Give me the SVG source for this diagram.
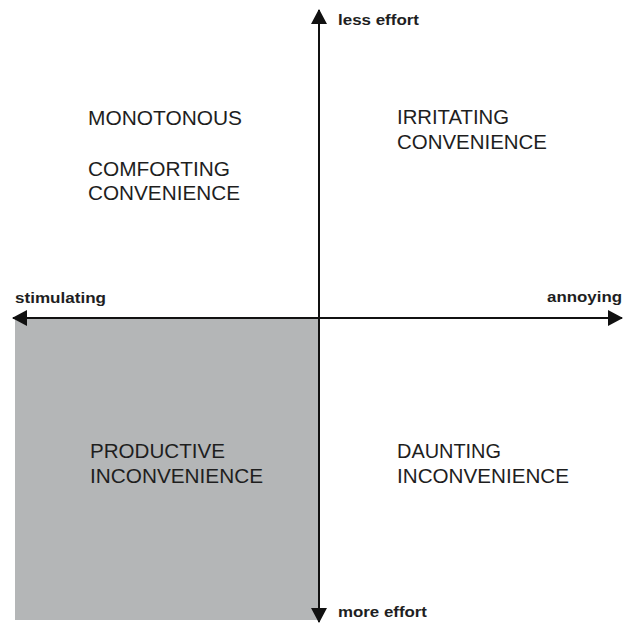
<svg xmlns="http://www.w3.org/2000/svg" width="623" height="624" viewBox="0 0 623 624">
  <style>
    .axis { stroke: #111; stroke-width: 2; fill: none; }
    .axlbl { font-family: "Liberation Sans", Arial, sans-serif; font-weight: bold; font-size: 15.5px; fill: #1e1e22; }
    .quad { font-family: "Liberation Sans", Arial, sans-serif; font-size: 20px; fill: #1e1e1e; }
  </style>
  <defs>
    <marker id="head" viewBox="0 0 15 16" refX="14" refY="8" markerWidth="15" markerHeight="16" markerUnits="userSpaceOnUse" orient="auto">
      <path d="M0,0 L15,8 L0,16 Z" fill="#111"/>
    </marker>
  </defs>

  <rect width="623" height="624" fill="#ffffff"/>

  <!-- shaded lower-left quadrant -->
  <g id="productive-area">
    <rect x="15" y="318" width="304" height="302" fill="#b4b6b7"/>
  </g>

  <!-- axes -->
  <g id="connectors">
    <line class="axis" x1="319" y1="318" x2="319" y2="10" marker-end="url(#head)"/>
    <line class="axis" x1="319" y1="318" x2="319" y2="622" marker-end="url(#head)"/>
    <line class="axis" x1="319" y1="318" x2="13" y2="318" marker-end="url(#head)"/>
    <line class="axis" x1="319" y1="318" x2="622" y2="318" marker-end="url(#head)"/>
  </g>

  <!-- axis labels -->
  <g id="label-less-effort"><text class="axlbl" x="338" y="25" textLength="81" lengthAdjust="spacingAndGlyphs">less effort</text></g>
  <g id="label-more-effort"><text class="axlbl" x="338" y="617" textLength="89" lengthAdjust="spacingAndGlyphs">more effort</text></g>
  <g id="label-stimulating"><text class="axlbl" x="15" y="303" textLength="91" lengthAdjust="spacingAndGlyphs">stimulating</text></g>
  <g id="label-annoying"><text class="axlbl" x="547" y="302" textLength="75" lengthAdjust="spacingAndGlyphs">annoying</text></g>

  <!-- quadrant labels -->
  <g id="q-monotonous"><text class="quad" x="88" y="125" textLength="154" lengthAdjust="spacingAndGlyphs">MONOTONOUS</text></g>
  <g id="q-comforting">
    <text class="quad" x="88" y="176" textLength="142" lengthAdjust="spacingAndGlyphs">COMFORTING</text>
    <text class="quad" x="88" y="200" textLength="152" lengthAdjust="spacingAndGlyphs">CONVENIENCE</text>
  </g>
  <g id="q-irritating">
    <text class="quad" x="397" y="124" textLength="112" lengthAdjust="spacingAndGlyphs">IRRITATING</text>
    <text class="quad" x="397" y="149" textLength="150" lengthAdjust="spacingAndGlyphs">CONVENIENCE</text>
  </g>
  <g id="q-productive">
    <text class="quad" x="90" y="458" textLength="135" lengthAdjust="spacingAndGlyphs">PRODUCTIVE</text>
    <text class="quad" x="90" y="483" textLength="173" lengthAdjust="spacingAndGlyphs">INCONVENIENCE</text>
  </g>
  <g id="q-daunting">
    <text class="quad" x="397" y="458" textLength="104" lengthAdjust="spacingAndGlyphs">DAUNTING</text>
    <text class="quad" x="397" y="483" textLength="172" lengthAdjust="spacingAndGlyphs">INCONVENIENCE</text>
  </g>
</svg>
